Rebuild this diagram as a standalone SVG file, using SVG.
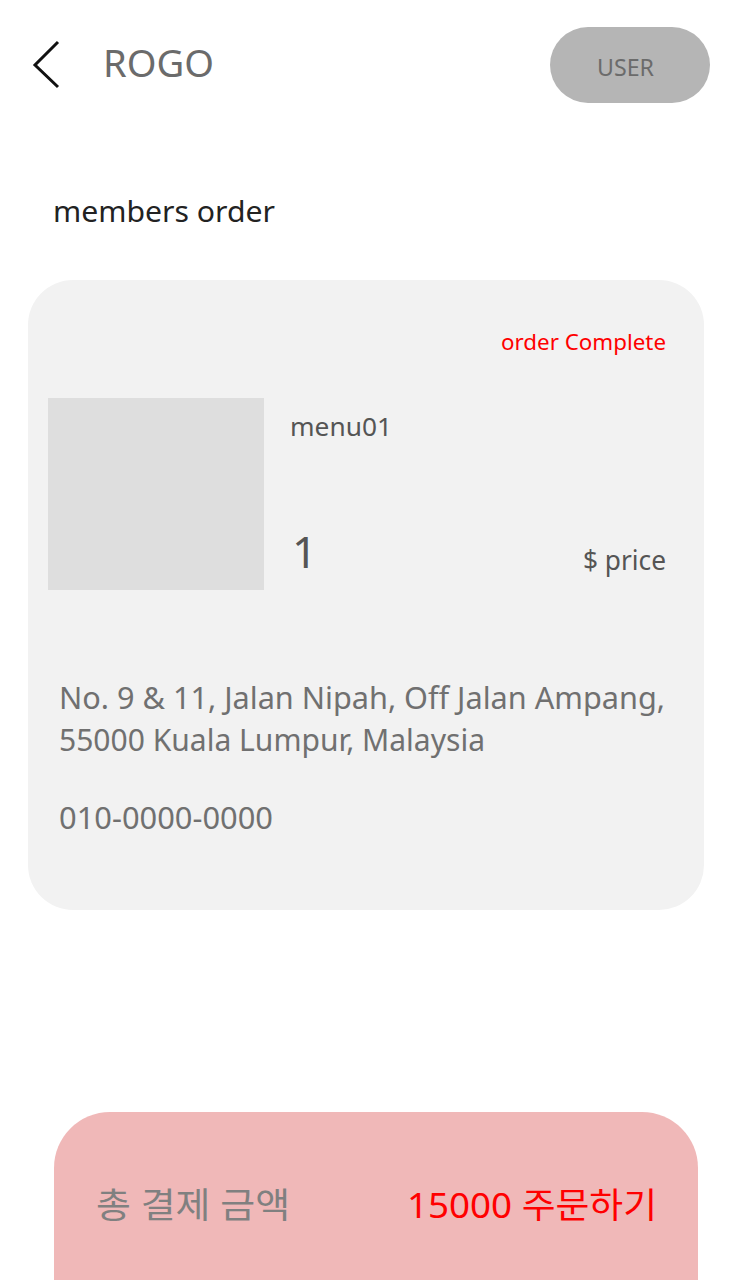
<svg xmlns="http://www.w3.org/2000/svg" width="750" height="1280" viewBox="0 0 750 1280">
<style>
text { font-family: "Noto Sans", "Noto Sans CJK KR", sans-serif; }
.gray { fill: #6b6b6b; }
.dark { fill: #555555; }
.red { fill: #ff0000; }
.addr { fill: #707070; font-size: 30px; }
</style>
<rect width="750" height="1280" fill="#ffffff"/>
<g id="header">
  <path d="M58,42 L35,65 L58,87" fill="none" stroke="#111111" stroke-width="3"/>
  <text x="103" y="77" font-size="38" class="gray" textLength="111" lengthAdjust="spacingAndGlyphs">ROGO</text>
</g>
<g id="user-button">
  <rect x="550" y="27" width="160" height="76" rx="38" fill="#b5b5b5"/>
  <text x="597" y="76" font-size="23" class="gray" textLength="57" lengthAdjust="spacingAndGlyphs">USER</text>
</g>
<g id="title">
  <text x="53" y="222" font-size="29" fill="#222222" textLength="222" lengthAdjust="spacingAndGlyphs">members order</text>
</g>
<g id="order-card">
  <rect x="28" y="280" width="676" height="630" rx="45" fill="#f2f2f2"/>
  <text x="501" y="350" font-size="22" class="red" textLength="165" lengthAdjust="spacingAndGlyphs">order Complete</text>
  <rect x="48" y="398" width="216" height="192" fill="#dedede"/>
  <text x="290" y="436" font-size="25" class="dark" textLength="102" lengthAdjust="spacingAndGlyphs">menu01</text>
  <text x="292" y="568" font-size="44" class="dark">1</text>
  <text x="583" y="570" font-size="28" class="dark" textLength="83" lengthAdjust="spacingAndGlyphs">$ price</text>
  <text x="59" y="709" class="addr" textLength="606" lengthAdjust="spacingAndGlyphs">No. 9 &amp; 11, Jalan Nipah, Off Jalan Ampang,</text>
  <text x="59" y="751" class="addr" textLength="426" lengthAdjust="spacingAndGlyphs">55000 Kuala Lumpur, Malaysia</text>
  <text x="59" y="829" class="addr" textLength="214" lengthAdjust="spacingAndGlyphs">010-0000-0000</text>
</g>
<g id="order-bar">
  <rect x="54" y="1112" width="644" height="260" rx="56" fill="#f0b8b8"/>
  <text x="96" y="1218" font-size="35" fill="#808080" textLength="194" lengthAdjust="spacingAndGlyphs">총 결제 금액</text>
  <text x="407" y="1218" font-size="35" class="red" textLength="250" lengthAdjust="spacingAndGlyphs">15000 주문하기</text>
</g>
</svg>
